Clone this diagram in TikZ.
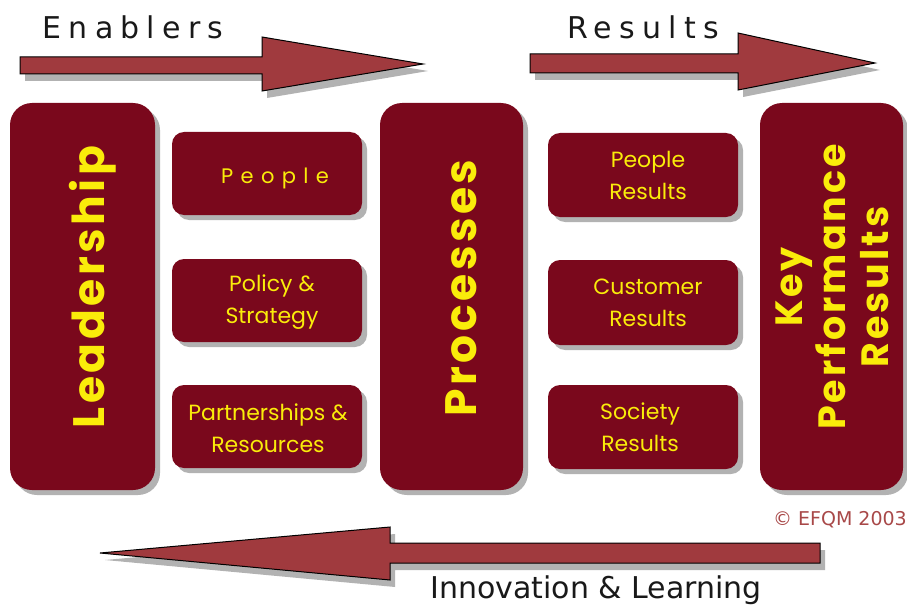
\documentclass[tikz,border=0pt]{standalone}
\usepackage{fontspec}
\setmainfont{Poppins}
\newfontfamily\lblfont[LetterSpace=24]{DejaVu Sans}
\newfontfamily\innofont{DejaVu Sans}
\newfontfamily\boxfont{Poppins}
\newfontfamily\spacedbox[LetterSpace=35]{Poppins}
\newfontfamily\vertfont[LetterSpace=8]{Poppins}
\usetikzlibrary{shadows}
\definecolor{boxred}{RGB}{122,8,28}
\definecolor{arrred}{RGB}{160,58,62}
\definecolor{txtyel}{RGB}{250,236,10}
\definecolor{copyred}{RGB}{168,72,72}
\definecolor{lblgray}{RGB}{25,25,25}
\tikzset{
  boxshadow/.style={drop shadow={shadow xshift=5pt, shadow yshift=-5pt, opacity=0.3, fill=black}},
  bigbox/.style={fill=boxred, rounded corners=22pt, boxshadow, inner sep=0pt},
  smallbox/.style={fill=boxred, rounded corners=12pt, boxshadow, inner sep=0pt, minimum width=190pt},
  bigarrow/.style={fill=arrred, draw=black, line width=1pt, line join=miter,
    drop shadow={shadow xshift=5pt, shadow yshift=-7pt, opacity=0.3, fill=black}},
  vtext/.style={text=txtyel, font=\vertfont\bfseries\fontsize{44}{44}\selectfont, rotate=90, inner sep=0pt},
  btext/.style={text=txtyel, font=\boxfont\fontsize{22}{32}\selectfont, align=center, inner sep=0pt},
  headlbl/.style={text=lblgray, font=\lblfont\fontsize{30}{30}\selectfont, inner sep=0pt}
}
\begin{document}
\begin{tikzpicture}[x=1pt,y=-1pt]
\useasboundingbox (0,0) rectangle (907,607);
% top arrows
\filldraw[bigarrow] (20,57) -- (262,57) -- (262,37) -- (423,64) -- (262,91) -- (262,74) -- (20,74) -- cycle;
\filldraw[bigarrow] (530,54) -- (738,54) -- (738,33) -- (875,63) -- (738,90) -- (738,73) -- (530,73) -- cycle;
\node[headlbl] (enab) at (133,27) {Enablers};
\node[headlbl] (resl) at (643,27) {Results};
% big boxes
\node[bigbox, minimum width=145pt, minimum height=387pt] (lead) at (82.5,296.5) {};
\node[bigbox, minimum width=143pt, minimum height=387pt] (proc) at (451.5,296.5) {};
\node[bigbox, minimum width=143pt, minimum height=387pt] (kpr) at (831.5,296.5) {};
% small boxes
\node[smallbox, minimum height=83pt] (peop) at (267,173.5) {};
\node[smallbox, minimum height=83pt] (poli) at (267,300.5) {};
\node[smallbox, minimum height=83pt] (part) at (267,426.5) {};
\node[smallbox, minimum height=84pt] (pres) at (643,175) {};
\node[smallbox, minimum height=85pt] (cres) at (643,302.5) {};
\node[smallbox, minimum height=84pt] (sres) at (643,427) {};
% vertical texts
\node[vtext] (leadT) at (93,287) {Leadership};
\node[vtext] (procT) at (461,288) {Processes};
\node[vtext, align=center, font=\vertfont\bfseries\fontsize{38}{43}\selectfont] (kprT) at (832,287)
  {Key\\Performance\\Results};
% small box texts
\node[btext, font=\spacedbox\fontsize{21}{32}\selectfont] (peopT) at (275,178) {People};
\node[btext] (poliT) at (272,302) {Policy \&\\Strategy};
\node[btext] (partT) at (268,428) {Partnerships \&\\Resources};
\node[btext] (presT) at (648,175) {People\\Results};
\node[btext] (cresT) at (648,303) {Customer\\Results};
\node[btext] (sresT) at (640,427) {Society\\Results};
% copyright
\node[anchor=east, text=copyred, font=\innofont\fontsize{19}{19}\selectfont, inner sep=0pt] (copy) at (907,520) {© EFQM 2003};
% bottom arrow
\filldraw[bigarrow] (820,543) -- (390,543) -- (390,527) -- (100,553) -- (390,580) -- (390,563) -- (820,563) -- cycle;
\node[text=lblgray, font=\innofont\fontsize{30}{30}\selectfont, inner sep=0pt] (inno) at (596,590) {Innovation \& Learning};
\end{tikzpicture}
\end{document}
